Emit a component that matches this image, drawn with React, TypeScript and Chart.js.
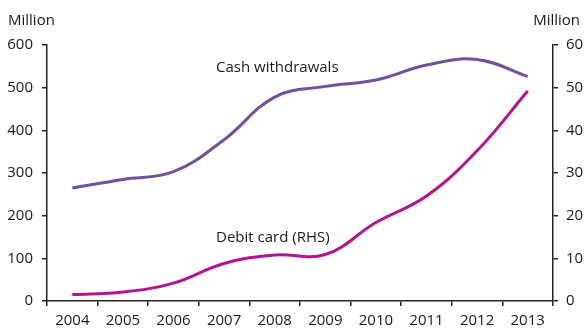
import React, { useEffect, useRef } from "react";
import { Chart, registerables } from "chart.js";

Chart.register(...registerables);

const years = ["2004", "2005", "2006", "2007", "2008", "2009", "2010", "2011", "2012", "2013"];
const cashWithdrawals = [265, 285, 303, 378, 478, 503, 518, 553, 566, 526];
const debitCard = [1.5, 2.1, 4.2, 8.8, 10.8, 10.9, 18.4, 24.6, 35.2, 49.2];
const leftTicks = [0, 100, 200, 300, 400, 500, 600];
const rightTicks = [0, 10, 20, 30, 40, 50, 60];

const FONT = "'Open Sans', 'Noto Sans', sans-serif";
const TEXT = "#1a1a1a";
const AXIS = "#222222";

const labelPlugin = {
  id: "labels",
  afterDraw(chart: any) {
    const { ctx, scales, chartArea } = chart;
    ctx.save();
    ctx.fillStyle = TEXT;
    ctx.font = `15px ${FONT}`;
    ctx.textBaseline = "middle";
    ctx.textAlign = "left";
    ctx.fillText("Cash withdrawals", scales.x.getPixelForValue(2.84), scales.y.getPixelForValue(546));
    ctx.fillText("Debit card (RHS)", scales.x.getPixelForValue(2.84), scales.y1.getPixelForValue(14.8));
    ctx.textAlign = "left";
    ctx.fillText("Million", 8, chartArea.top - 24);
    ctx.textAlign = "right";
    ctx.fillText("Million", chart.width - 5, chartArea.top - 24);
    ctx.restore();
  },
};

export default function App() {
  const ref = useRef<HTMLCanvasElement>(null);
  useEffect(() => {
    document.body.style.margin = "0";
    const c = new Chart(ref.current!, {
      type: "line",
      data: {
        labels: years,
        datasets: [
          {
            label: "Cash withdrawals",
            data: cashWithdrawals,
            yAxisID: "y",
            borderColor: "#70529c",
            borderWidth: 3,
            pointRadius: 0,
            tension: 0.4,
            fill: false,
          },
          {
            label: "Debit card (RHS)",
            data: debitCard,
            yAxisID: "y1",
            borderColor: "#b5148f",
            borderWidth: 3,
            pointRadius: 0,
            tension: 0.4,
            fill: false,
          },
        ],
      },
      options: {
        animation: false,
        responsive: false,
        maintainAspectRatio: false,
        layout: { padding: { top: 45, left: 0, right: 0, bottom: 0 } },
        plugins: { legend: { display: false }, tooltip: { enabled: false } },
        scales: {
          x: {
            type: "category",
            offset: true,
            grid: { offset: true, drawOnChartArea: false, drawTicks: true, tickLength: 5, color: AXIS, lineWidth: 1.5 },
            border: { display: true, color: AXIS, width: 1.5 },
            ticks: { color: TEXT, font: { family: FONT, size: 15 }, padding: 6, maxRotation: 0, autoSkip: false },
            afterFit: (s: any) => { s.height = 27; },
          },
          y: {
            position: "left",
            min: 0,
            max: 600,
            afterBuildTicks: (s: any) => { s.ticks = leftTicks.map((v) => ({ value: v })); },
            grid: { drawOnChartArea: false, drawTicks: true, tickLength: 5, color: AXIS, lineWidth: 1.5 },
            border: { display: true, color: AXIS, width: 1.5 },
            ticks: { color: TEXT, font: { family: FONT, size: 15 }, padding: 9 },
            afterFit: (s: any) => { s.width = 47; },
          },
          y1: {
            position: "right",
            min: 0,
            max: 60,
            afterBuildTicks: (s: any) => { s.ticks = rightTicks.map((v) => ({ value: v })); },
            grid: { drawOnChartArea: false, drawTicks: true, tickLength: 5, color: AXIS, lineWidth: 1.5 },
            border: { display: true, color: AXIS, width: 1.5 },
            ticks: { color: TEXT, font: { family: FONT, size: 15 }, padding: 8 },
            afterFit: (s: any) => { s.width = 32; },
          },
        },
      },
      plugins: [labelPlugin],
    } as any);
    return () => c.destroy();
  }, []);
  return (
    <div style={{ width: 585, height: 328 }}>
      <canvas ref={ref} width={585} height={328} style={{ display: "block" }} />
    </div>
  );
}
